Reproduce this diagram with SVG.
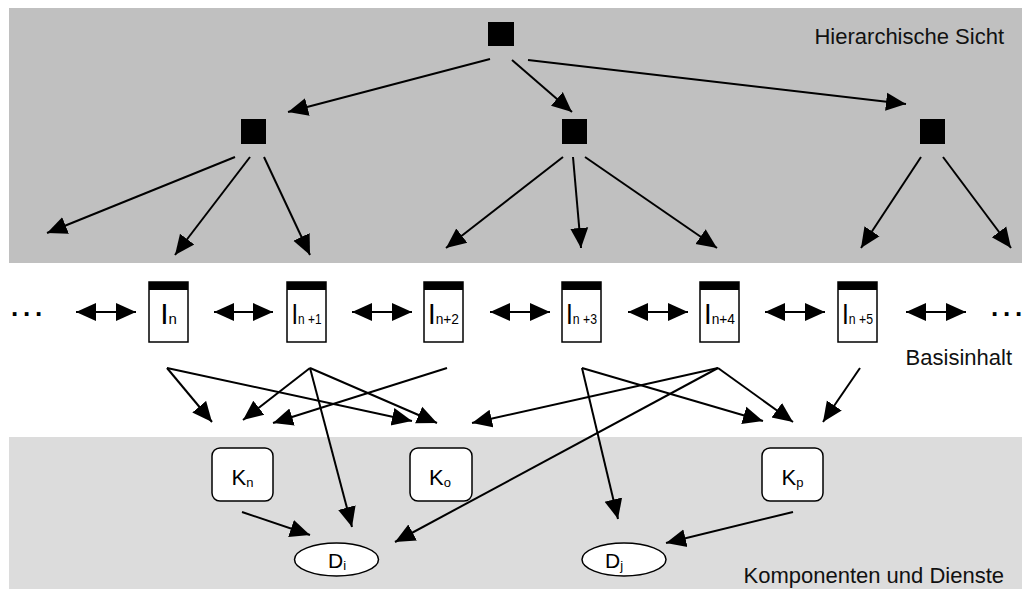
<svg xmlns="http://www.w3.org/2000/svg" width="1022" height="590" viewBox="0 0 1022 590">
<defs>
<marker id="ah" markerUnits="userSpaceOnUse" markerWidth="20" markerHeight="20" viewBox="0 0 20 20" refX="20" refY="10" orient="auto-start-reverse"><path d="M0,1 L20,10 L0,19 Z" fill="#000"/></marker>
</defs>
<style>
.lbl{font-family:"Liberation Sans",Arial,sans-serif;font-size:22px;fill:#111}
.t{font-family:"Liberation Sans",Arial,sans-serif;fill:#000}
.dots{font-family:"Liberation Sans",Arial,sans-serif;font-size:26px;font-weight:bold;fill:#000}
.c line{stroke:#000;stroke-width:2;marker-end:url(#ah)}
.dbl line{stroke:#000;stroke-width:2;marker-start:url(#ah);marker-end:url(#ah)}
.sq{fill:#000}
.ibox{fill:#fff;stroke:#000;stroke-width:1.5}
.ihead{fill:#000}
.kbox{fill:#fff;stroke:#000;stroke-width:1.5}
.dell{fill:#fff;stroke:#000;stroke-width:1.5}
</style>
<rect x="9" y="8" width="1013" height="255" fill="#c0c0c0"/>
<rect x="9" y="437" width="1013" height="152" fill="#dcdcdc"/>
<text class="lbl" x="1004" y="44" text-anchor="end">Hierarchische Sicht</text>
<text class="lbl" x="1012" y="365" text-anchor="end">Basisinhalt</text>
<text class="lbl" x="1004" y="583" text-anchor="end">Komponenten und Dienste</text>
<g id="h-root"><rect class="sq" x="488" y="22" width="26" height="24"/></g>
<g id="h-left"><rect class="sq" x="241" y="119" width="25" height="25"/></g>
<g id="h-mid"><rect class="sq" x="562" y="119" width="25" height="25"/></g>
<g id="h-right"><rect class="sq" x="920" y="119" width="25" height="25"/></g>
<g id="dots-left"><text class="dots" x="11" y="316">.<tspan dx="4.8">.</tspan><tspan dx="4.8">.</tspan></text></g>
<g id="dots-right"><text class="dots" x="991" y="316">.<tspan dx="4.8">.</tspan><tspan dx="4.8">.</tspan></text></g>
<g id="i-n"><rect class="ibox" x="149" y="282" width="39" height="60"/><rect class="ihead" x="149" y="282" width="39" height="8"/><text class="t" x="168.5" y="324" text-anchor="middle"><tspan font-size="30">I</tspan><tspan font-size="15">n</tspan></text></g>
<g id="i-n1"><rect class="ibox" x="287" y="282" width="39" height="60"/><rect class="ihead" x="287" y="282" width="39" height="8"/><text class="t" x="306.5" y="324" text-anchor="middle" textLength="30" lengthAdjust="spacingAndGlyphs"><tspan font-size="30">I</tspan><tspan font-size="15">n +1</tspan></text></g>
<g id="i-n2"><rect class="ibox" x="424" y="282" width="39" height="60"/><rect class="ihead" x="424" y="282" width="39" height="8"/><text class="t" x="443.5" y="324" text-anchor="middle" textLength="31" lengthAdjust="spacingAndGlyphs"><tspan font-size="30">I</tspan><tspan font-size="15">n+2</tspan></text></g>
<g id="i-n3"><rect class="ibox" x="562" y="282" width="39" height="60"/><rect class="ihead" x="562" y="282" width="39" height="8"/><text class="t" x="581.5" y="324" text-anchor="middle" textLength="31" lengthAdjust="spacingAndGlyphs"><tspan font-size="30">I</tspan><tspan font-size="15">n +3</tspan></text></g>
<g id="i-n4"><rect class="ibox" x="700" y="282" width="39" height="60"/><rect class="ihead" x="700" y="282" width="39" height="8"/><text class="t" x="719.5" y="324" text-anchor="middle" textLength="31" lengthAdjust="spacingAndGlyphs"><tspan font-size="30">I</tspan><tspan font-size="15">n+4</tspan></text></g>
<g id="i-n5"><rect class="ibox" x="838" y="282" width="39" height="60"/><rect class="ihead" x="838" y="282" width="39" height="8"/><text class="t" x="857.5" y="324" text-anchor="middle" textLength="31" lengthAdjust="spacingAndGlyphs"><tspan font-size="30">I</tspan><tspan font-size="15">n +5</tspan></text></g>
<g id="k-n"><rect class="kbox" x="212" y="448" width="61" height="53" rx="8"/><text class="t" x="242.5" y="485" text-anchor="middle"><tspan font-size="22">K</tspan><tspan font-size="13" dy="1.5">n</tspan></text></g>
<g id="k-o"><rect class="kbox" x="410" y="448" width="62" height="53" rx="8"/><text class="t" x="440" y="485" text-anchor="middle"><tspan font-size="22">K</tspan><tspan font-size="13" dy="1.5">o</tspan></text></g>
<g id="k-p"><rect class="kbox" x="762" y="448" width="61" height="53" rx="8"/><text class="t" x="792.5" y="485" text-anchor="middle"><tspan font-size="22">K</tspan><tspan font-size="13" dy="1.5">p</tspan></text></g>
<g id="d-i"><ellipse class="dell" cx="336.5" cy="559.5" rx="42" ry="16.5"/><text class="t" x="337" y="568" text-anchor="middle"><tspan font-size="21">D</tspan><tspan font-size="13" dy="2">i</tspan></text></g>
<g id="d-j"><ellipse class="dell" cx="624" cy="559.5" rx="42" ry="16.5"/><text class="t" x="614" y="568" text-anchor="middle"><tspan font-size="21">D</tspan><tspan font-size="13" dy="2">j</tspan></text></g>
<g id="connectors">
<g class="c">
<line x1="490" y1="59" x2="288" y2="112"/>
<line x1="512" y1="60" x2="572" y2="112"/>
<line x1="528" y1="60" x2="906" y2="104"/>
<line x1="235" y1="157" x2="47" y2="233"/>
<line x1="250" y1="157" x2="175" y2="255"/>
<line x1="264" y1="157" x2="310" y2="255"/>
<line x1="563" y1="157" x2="446" y2="248"/>
<line x1="573" y1="157" x2="581" y2="248"/>
<line x1="585" y1="157" x2="717" y2="248"/>
<line x1="921" y1="157" x2="861" y2="248"/>
<line x1="943" y1="157" x2="1011" y2="248"/>
<line x1="167" y1="368" x2="212" y2="422"/>
<line x1="167" y1="368" x2="412" y2="421"/>
<line x1="310" y1="368" x2="243" y2="420"/>
<line x1="310" y1="368" x2="352" y2="527"/>
<line x1="310" y1="368" x2="437" y2="423"/>
<line x1="447" y1="368" x2="273" y2="423"/>
<line x1="718" y1="368" x2="472" y2="423"/>
<line x1="718" y1="368" x2="395" y2="542"/>
<line x1="718" y1="368" x2="793" y2="422"/>
<line x1="582" y1="368" x2="618" y2="519"/>
<line x1="582" y1="368" x2="763" y2="421"/>
<line x1="860" y1="368" x2="823" y2="422"/>
<line x1="242" y1="512" x2="310" y2="535"/>
<line x1="793" y1="512" x2="666" y2="543"/>
</g>
<g class="dbl">
<line x1="76" y1="312" x2="136" y2="312"/>
<line x1="214" y1="312" x2="273" y2="312"/>
<line x1="352" y1="312" x2="412" y2="312"/>
<line x1="490" y1="312" x2="550" y2="312"/>
<line x1="628" y1="312" x2="688" y2="312"/>
<line x1="765" y1="312" x2="825" y2="312"/>
<line x1="906" y1="312" x2="966" y2="312"/>
</g>
</g>
</svg>
